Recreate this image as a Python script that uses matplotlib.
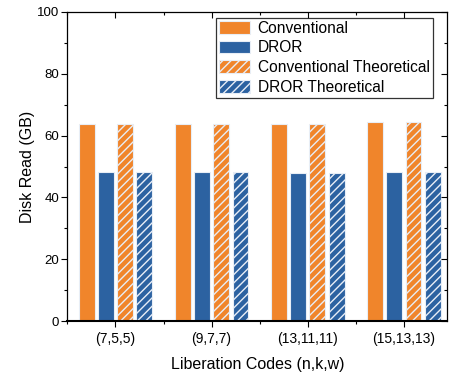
import numpy as np
import matplotlib.pyplot as plt
from matplotlib.ticker import MultipleLocator

plt.rcParams['font.family'] = ['Liberation Sans', 'DejaVu Sans']
plt.rcParams['hatch.color'] = 'white'
plt.rcParams['hatch.linewidth'] = 1.0

codes = ['(7,5,5)', '(9,7,7)', '(13,11,11)', '(15,13,13)']
conventional = [63.7, 63.9, 63.9, 64.3]
dror = [48.2, 48.1, 47.8, 48.1]
conventional_theo = [63.7, 63.9, 63.9, 64.3]
dror_theo = [48.2, 48.1, 47.8, 48.1]

orange = '#F0852B'
blue = '#2C62A1'

fig = plt.figure(figsize=(4.49, 3.75), dpi=100)
ax = fig.add_axes([0.150, 0.144, 0.846, 0.824])

x = np.arange(1, len(codes) + 1)
w = 0.165
step = 0.2
series = [
    (conventional, orange, None, 'Conventional'),
    (dror, blue, None, 'DROR'),
    (conventional_theo, orange, '////', 'Conventional Theoretical'),
    (dror_theo, blue, '////', 'DROR Theoretical'),
]
for i, (vals, color, hatch, label) in enumerate(series):
    ax.bar(x + (i - 1.5) * step, vals, w, color=color, hatch=hatch,
           edgecolor='#E8EEF6', linewidth=0.8, label=label)

ax.set_xlim(0.5, 4.45)
ax.set_ylim(0, 100)
ax.set_xticks(x)
ax.set_xticklabels(codes)
ax.xaxis.set_minor_locator(MultipleLocator(0.5))
ax.yaxis.set_major_locator(MultipleLocator(20))
ax.yaxis.set_minor_locator(MultipleLocator(10))
ax.tick_params(axis='both', which='major', length=4, width=0.8)
ax.tick_params(axis='both', which='minor', length=2.5, width=0.8)
ax.tick_params(axis='y', labelsize=9.5, pad=2)
ax.tick_params(axis='x', labelsize=10, pad=4)
# mirror ticks on top/right pointing in
ax.tick_params(top=True, right=True, which='both')
for t in ax.xaxis.get_major_ticks() + ax.xaxis.get_minor_ticks():
    t.tick2line.set_marker(3)
for t in ax.yaxis.get_major_ticks() + ax.yaxis.get_minor_ticks():
    t.tick2line.set_marker(0)
ax.spines['bottom'].set_linewidth(1.5)
for s in ['left', 'top', 'right']:
    ax.spines[s].set_linewidth(0.9)

ax.set_xlabel('Liberation Codes (n,k,w)', fontsize=11.5, labelpad=8)
ax.set_ylabel('Disk Read (GB)', fontsize=11.5, labelpad=1)

leg = ax.legend(loc='upper right', bbox_to_anchor=(0.97, 0.992), fontsize=11.2,
                frameon=True, fancybox=False, edgecolor='black',
                handlelength=2.0, handleheight=0.85, labelspacing=0.3,
                borderpad=0.2, handletextpad=0.5, borderaxespad=0.2)
leg.get_frame().set_linewidth(0.9)

fig.savefig('out.png', dpi=100)
